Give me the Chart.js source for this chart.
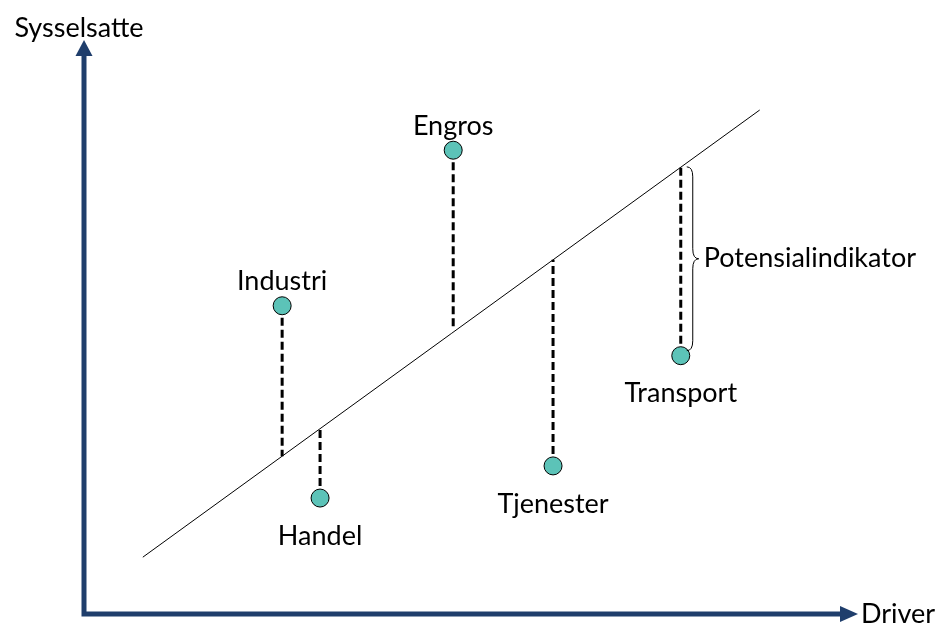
<!DOCTYPE html>
<html>
<head>
<meta charset="utf-8">
<script src="https://cdn.jsdelivr.net/npm/chart.js@4.4.1/dist/chart.umd.min.js"></script>
<style>
  html, body { margin: 0; padding: 0; background: #fff; }
  #wrap { width: 936px; height: 626px; }
</style>
</head>
<body>
<div id="wrap"><canvas id="potensial"></canvas></div>
<script>
// data (x = Driver, y = Sysselsatte, 0..100)
const categories = ['Industri', 'Handel', 'Engros', 'Tjenester', 'Transport'];
const driverValues = [25.6, 30.5, 47.7, 60.6, 77.1];
const sysselsatteValues = [53.7, 20.2, 80.8, 25.8, 45.0];
const fittedValues = [27.5, 32.6, 49.5, 61.7, 77.9];
const trendX = [7.6, 87.3];
const trendY = [9.9, 87.8];

const navy = '#1f3e6c';
const teal = '#5cc3b8';
const font = 'Lato, "Open Sans", sans-serif';

// where labels go, relative to the point
const labelPlace = ['above', 'below', 'above', 'below', 'below'];

let datasets = [];

// dashed lines from each point to the trend line
categories.forEach(function (name, i) {
    datasets.push({
        type: 'line',
        data: [{ x: driverValues[i], y: sysselsatteValues[i] }, { x: driverValues[i], y: fittedValues[i] }],
        borderColor: '#000',
        borderWidth: 3,
        borderDash: [8, 4],
        pointRadius: 0,
        fill: false,
        order: 2
    });
});

// trend line
datasets.push({
    type: 'line',
    data: [{ x: trendX[0], y: trendY[0] }, { x: trendX[1], y: trendY[1] }],
    borderColor: '#000',
    borderWidth: 1,
    pointRadius: 0,
    fill: false,
    order: 3
});

// the points
datasets.push({
    type: 'scatter',
    data: categories.map(function (c, i) { return { x: driverValues[i], y: sysselsatteValues[i] }; }),
    backgroundColor: teal,
    borderColor: '#000',
    borderWidth: 1,
    pointRadius: 9,
    order: 1
});

// axes with arrows, labels and the brace
const diagramPlugin = {
    id: 'diagram',
    beforeDatasetsDraw(chart) {
        const c = chart.ctx;
        const xs = chart.scales.x, ys = chart.scales.y;
        const x0 = xs.getPixelForValue(0), y0 = ys.getPixelForValue(0);
        const xEnd = xs.getPixelForValue(100), yEnd = ys.getPixelForValue(100);
        c.save();
        c.strokeStyle = navy;
        c.fillStyle = navy;
        c.lineWidth = 5;
        c.lineCap = 'butt';
        c.beginPath();
        c.moveTo(x0, yEnd + 14);
        c.lineTo(x0, y0);
        c.lineTo(xEnd - 16, y0);
        c.stroke();
        // arrow heads
        c.beginPath();
        c.moveTo(x0, yEnd);
        c.lineTo(x0 - 8.5, yEnd + 16);
        c.lineTo(x0 + 8.5, yEnd + 16);
        c.closePath();
        c.fill();
        c.beginPath();
        c.moveTo(xEnd, y0);
        c.lineTo(xEnd - 18, y0 - 8);
        c.lineTo(xEnd - 18, y0 + 8);
        c.closePath();
        c.fill();
        c.restore();
    },
    afterDatasetsDraw(chart) {
        const c = chart.ctx;
        const xs = chart.scales.x, ys = chart.scales.y;
        c.save();
        c.fillStyle = '#000';
        c.font = '27px ' + font;
        c.textAlign = 'center';
        c.textBaseline = 'middle';
        categories.forEach(function (name, i) {
            const px = xs.getPixelForValue(driverValues[i]);
            const py = ys.getPixelForValue(sysselsatteValues[i]);
            const dy = labelPlace[i] === 'above' ? -24 : 38;
            c.fillText(name, px, py + dy);
        });
        // axis titles
        c.fillText('Sysselsatte', xs.getPixelForValue(0) - 5, ys.getPixelForValue(100) - 12);
        c.textAlign = 'left';
        c.fillText('Driver', xs.getPixelForValue(100) + 3, ys.getPixelForValue(0));

        // brace next to Transport
        const t = categories.length - 1;
        const bx = xs.getPixelForValue(driverValues[t]) + 6;
        const top = ys.getPixelForValue(fittedValues[t]);
        const bot = ys.getPixelForValue(sysselsatteValues[t]) - 5;
        const mid = (top + bot) / 2;
        const w = 12;
        c.strokeStyle = '#000';
        c.lineWidth = 1;
        c.beginPath();
        c.moveTo(bx, top);
        c.quadraticCurveTo(bx + w / 2, top, bx + w / 2, top + 10);
        c.lineTo(bx + w / 2, mid - 10);
        c.quadraticCurveTo(bx + w / 2, mid, bx + w, mid);
        c.quadraticCurveTo(bx + w / 2, mid, bx + w / 2, mid + 10);
        c.lineTo(bx + w / 2, bot - 10);
        c.quadraticCurveTo(bx + w / 2, bot, bx, bot);
        c.stroke();
        c.fillText('Potensialindikator', bx + w + 5, mid);
        c.restore();
    }
};

const chart = new Chart(document.getElementById('potensial'), {
    type: 'scatter',
    data: { datasets: datasets },
    options: {
        responsive: true,
        maintainAspectRatio: false,
        animation: false,
        layout: { padding: { left: 84, right: 78, top: 40, bottom: 12 } },
        scales: {
            x: { type: 'linear', min: 0, max: 100, display: false },
            y: { type: 'linear', min: 0, max: 100, display: false }
        },
        plugins: {
            legend: { display: false },
            tooltip: { enabled: false }
        }
    },
    plugins: [diagramPlugin]
});
</script>
</body>
</html>
